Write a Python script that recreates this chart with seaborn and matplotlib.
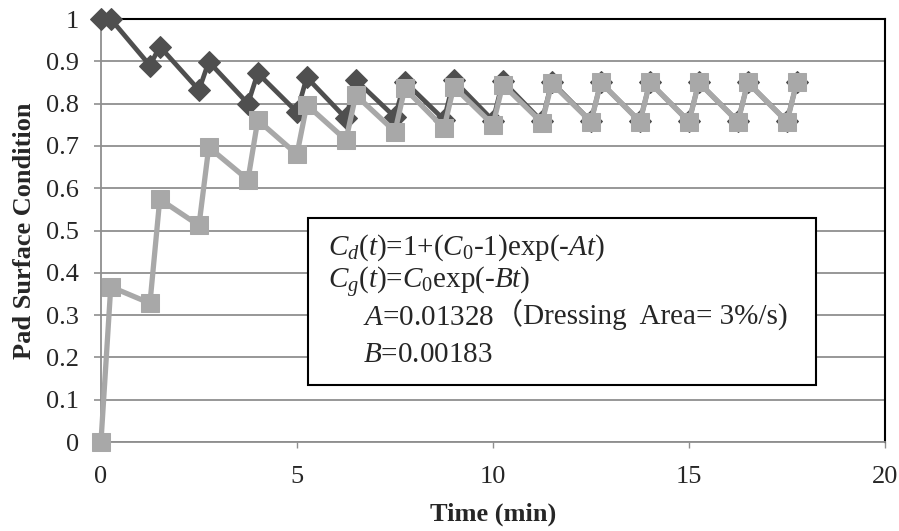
import matplotlib
matplotlib.use("Agg")
import matplotlib.pyplot as plt
from matplotlib.patches import Rectangle
from matplotlib.ticker import FuncFormatter
import seaborn as sns

# dressing every 1.25 min (0.25 min dressing + 1 min polishing)
time_min = [0, 0.25, 1.25, 1.5, 2.5, 2.75, 3.75, 4.0, 5.0, 5.25,
            6.25, 6.5, 7.5, 7.75, 8.75, 9.0, 10.0, 10.25, 11.25, 11.5,
            12.5, 12.75, 13.75, 14.0, 15.0, 15.25, 16.25, 16.5, 17.5, 17.75]

# dark series, starts from a fresh pad (C0 = 1)
cond_dark = [1.0, 1.0, 0.89, 0.935, 0.832, 0.899, 0.80, 0.872, 0.78, 0.862,
             0.765, 0.856, 0.768, 0.852, 0.762, 0.855, 0.76, 0.853, 0.758, 0.851,
             0.758, 0.85, 0.758, 0.85, 0.758, 0.85, 0.758, 0.85, 0.758, 0.85]

# light series, starts from a glazed pad (C0 = 0)
cond_light = [0.0, 0.367, 0.328, 0.574, 0.512, 0.697, 0.62, 0.761, 0.68, 0.797,
              0.714, 0.82, 0.734, 0.836, 0.742, 0.84, 0.75, 0.845, 0.755, 0.848,
              0.757, 0.85, 0.757, 0.85, 0.757, 0.85, 0.757, 0.85, 0.757, 0.85]

y_ticks = [0, 0.1, 0.2, 0.3, 0.4, 0.5, 0.6, 0.7, 0.8, 0.9, 1.0]
x_ticks = [0, 5, 10, 15, 20]

sns.set_style("white")
plt.rcParams['font.family'] = ['Liberation Serif', 'Noto Sans CJK SC']
plt.rcParams['mathtext.fontset'] = 'custom'
plt.rcParams['mathtext.rm'] = 'Liberation Serif'
plt.rcParams['mathtext.it'] = 'Liberation Serif:italic'

fig = plt.figure(figsize=(8.99, 5.31), dpi=100)
ax = fig.add_axes([0.1123, 0.1676, 0.8721, 0.7966])

dark = "#4f4f4f"
light = "#a8a8a8"

sns.lineplot(x=time_min, y=cond_dark, ax=ax, color=dark, linewidth=3.4,
             marker="D", markersize=11, markeredgecolor=dark, clip_on=False, zorder=3)
sns.lineplot(x=time_min, y=cond_light, ax=ax, color=light, linewidth=3.8,
             marker="s", markersize=12.5, markeredgecolor=light, clip_on=False, zorder=4)

ax.set_xlim(0, 20)
ax.set_ylim(0, 1)
ax.set_xticks(x_ticks)
ax.set_yticks(y_ticks)
ax.yaxis.set_major_formatter(FuncFormatter(lambda v, p: "%g" % v))
ax.yaxis.grid(True, color="#8f8f8f", linewidth=1.3)
ax.set_axisbelow(True)

for side in ["left", "bottom"]:
    ax.spines[side].set_color("#8f8f8f")
    ax.spines[side].set_linewidth(1.3)
for side in ["top", "right"]:
    ax.spines[side].set_color("black")
    ax.spines[side].set_linewidth(1.5)

ax.tick_params(axis="y", direction="out", length=5, width=1.2, color="#8f8f8f",
               labelsize=19, pad=11, left=True)
ax.tick_params(axis="x", direction="out", length=4, width=1.0, color="#8f8f8f",
               labelsize=19, pad=13, bottom=True)

ax.set_xlabel("Time (min)", fontsize=19, fontweight="bold", labelpad=11)
ax.set_ylabel("Pad Surface Condition", fontsize=19, fontweight="bold", labelpad=7)

# equation box
ax.add_patch(Rectangle((0.264, 0.135), 0.648, 0.395, transform=ax.transAxes,
                       facecolor="white", edgecolor="black", linewidth=1.5, zorder=5))
fs = 21
ax.text(0.2895, 0.444, r"$C_d(t)$=1+($C_0$-1)exp(-$At$)", transform=ax.transAxes,
        fontsize=fs, va="baseline", zorder=6)
ax.text(0.2895, 0.362, r"$C_g(t)$=$C_0$exp(-$Bt$)", transform=ax.transAxes,
        fontsize=fs, va="baseline", zorder=6)
t3 = ax.text(0.334, 0.277, r"$A$=0.01328", transform=ax.transAxes,
             fontsize=fs, va="baseline", zorder=6)
ax.annotate("（Dressing  Area= 3%/s)", xy=(1, 0), xycoords=t3, va="bottom",
            fontsize=fs, zorder=6)
ax.text(0.334, 0.189, r"$B$=0.00183", transform=ax.transAxes,
        fontsize=fs, va="baseline", zorder=6)

fig.savefig("out.png", dpi=100)
